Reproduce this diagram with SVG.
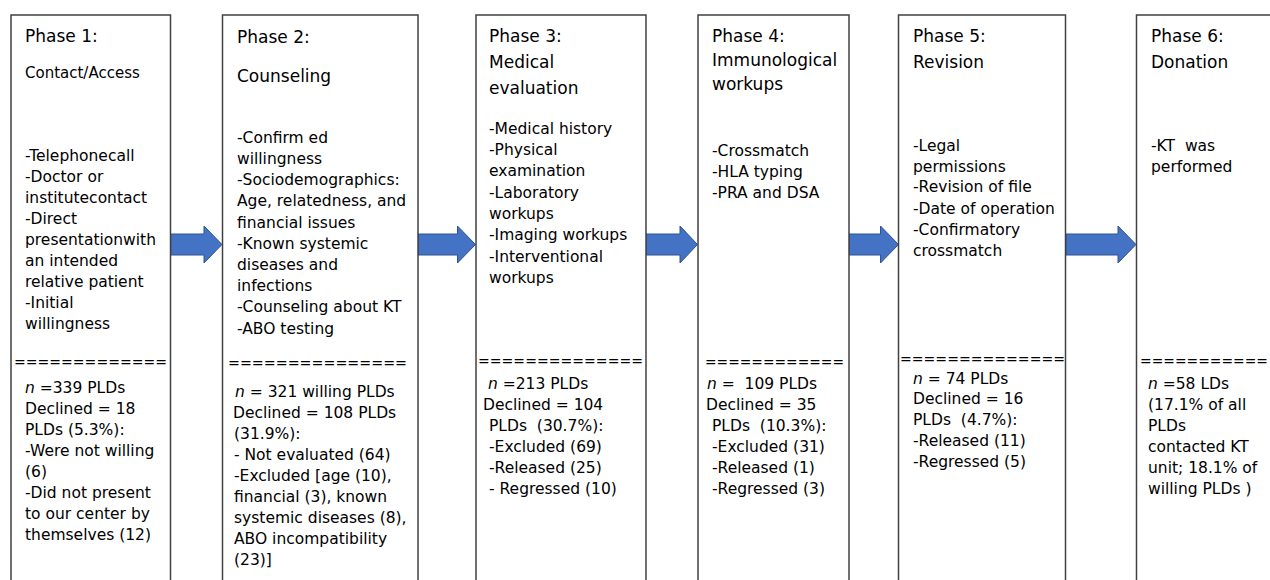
<svg xmlns="http://www.w3.org/2000/svg" width="1270" height="580" viewBox="0 0 1270 580">
<style>
.box{fill:#fff;stroke:#404040;stroke-width:1.5}
.arrow{fill:#4472C4;stroke:#2F528F;stroke-width:1}
text{font-family:"DejaVu Sans","Verdana",sans-serif;fill:#000}
.t{font-size:17px}
.b{font-size:15.5px}
.s{font-size:15px}
.eq{font-size:15.5px}
.i{font-style:italic}
</style>
<rect width="1270" height="580" fill="#fff"/>
<g id="connectors">
<path class="arrow" d="M170.7,234 H204 V226 L222,244.5 L204,263 V255 H170.7 Z"/>
<path class="arrow" d="M418,234 H457.5 V226 L475.5,244.5 L457.5,263 V255 H418 Z"/>
<path class="arrow" d="M646,234 H680 V226 L697.5,244.5 L680,263 V255 H646 Z"/>
<path class="arrow" d="M849,234 H880.5 V226 L898.5,244.5 L880.5,263 V255 H849 Z"/>
<path class="arrow" d="M1066,234 H1118 V226 L1136,244.5 L1118,263 V255 H1066 Z"/>
</g>
<g id="phase1">
<rect class="box" x="11" y="15" width="159.5" height="600"/>
<text class="t" x="25" y="42">Phase 1:</text>
<text class="s" x="25" y="78">Contact/Access</text>
<text class="b" x="25"><tspan x="25" y="161">-Telephonecall</tspan><tspan x="25" y="182">-Doctor or</tspan><tspan x="25" y="203">institutecontact</tspan><tspan x="25" y="224">-Direct</tspan><tspan x="25" y="245">presentationwith</tspan><tspan x="25" y="266">an intended</tspan><tspan x="25" y="287">relative patient</tspan><tspan x="25" y="308">-Initial</tspan><tspan x="25" y="329">willingness</tspan></text>
<text class="eq" x="14" y="367" textLength="153" lengthAdjust="spacingAndGlyphs">=============</text>
<text class="b"><tspan x="25" y="393"><tspan class="i">n</tspan> =339 PLDs</tspan><tspan x="25" y="414">Declined = 18</tspan><tspan x="25" y="435">PLDs (5.3%):</tspan><tspan x="25" y="456">-Were not willing</tspan><tspan x="25" y="477">(6)</tspan><tspan x="25" y="498">-Did not present</tspan><tspan x="25" y="519">to our center by</tspan><tspan x="25" y="540">themselves (12)</tspan></text>
</g>
<g id="phase2">
<rect class="box" x="222.5" y="15" width="195.5" height="600"/>
<text class="t" x="237" y="43">Phase 2:</text>
<text class="t" x="237" y="82">Counseling</text>
<text class="b"><tspan x="237" y="143">-Confirm ed</tspan><tspan x="237" y="164">willingness</tspan><tspan x="237" y="185">-Sociodemographics:</tspan><tspan x="237" y="206">Age, relatedness, and</tspan><tspan x="237" y="228">financial issues</tspan><tspan x="237" y="249">-Known systemic</tspan><tspan x="237" y="270">diseases and</tspan><tspan x="237" y="291">infections</tspan><tspan x="237" y="312">-Counseling about KT</tspan><tspan x="237" y="334">-ABO testing</tspan></text>
<text class="eq" x="228" y="368" textLength="179" lengthAdjust="spacingAndGlyphs">===============</text>
<text class="b"><tspan x="235" y="397"><tspan class="i">n</tspan> = 321 willing PLDs</tspan><tspan x="233" y="418">Declined = 108 PLDs</tspan><tspan x="234" y="439">(31.9%):</tspan><tspan x="234" y="460">- Not evaluated (64)</tspan><tspan x="234" y="481">-Excluded [age (10),</tspan><tspan x="234" y="502">financial (3), known</tspan><tspan x="234" y="523">systemic diseases (8),</tspan><tspan x="234" y="544">ABO incompatibility</tspan><tspan x="234" y="565">(23)]</tspan></text>
</g>
<g id="phase3">
<rect class="box" x="476" y="15" width="170" height="600"/>
<text class="t" x="489" y="42">Phase 3:</text>
<text class="t" x="489" y="68">Medical</text>
<text class="t" x="489" y="94">evaluation</text>
<text class="b"><tspan x="489" y="134">-Medical history</tspan><tspan x="489" y="155">-Physical</tspan><tspan x="489" y="176">examination</tspan><tspan x="489" y="198">-Laboratory</tspan><tspan x="489" y="219">workups</tspan><tspan x="489" y="240">-Imaging workups</tspan><tspan x="489" y="262">-Interventional</tspan><tspan x="489" y="283">workups</tspan></text>
<text class="eq" x="478" y="366" textLength="165" lengthAdjust="spacingAndGlyphs">==============</text>
<text class="b" xml:space="preserve"><tspan x="488" y="389"><tspan class="i">n</tspan> =213 PLDs</tspan><tspan x="483" y="410">Declined = 104</tspan><tspan x="489" y="431">PLDs  (30.7%):</tspan><tspan x="489" y="452">-Excluded (69)</tspan><tspan x="489" y="473">-Released (25)</tspan><tspan x="489" y="494">- Regressed (10)</tspan></text>
</g>
<g id="phase4">
<rect class="box" x="698" y="15" width="151" height="600"/>
<text class="t" x="712" y="42">Phase 4:</text>
<text class="t" x="712" y="66">Immunological</text>
<text class="t" x="712" y="90">workups</text>
<text class="b"><tspan x="712" y="156">-Crossmatch</tspan><tspan x="712" y="177">-HLA typing</tspan><tspan x="712" y="198">-PRA and DSA</tspan></text>
<text class="eq" x="705" y="367" textLength="139" lengthAdjust="spacingAndGlyphs">============</text>
<text class="b" xml:space="preserve"><tspan x="707" y="389"><tspan class="i">n</tspan> =  109 PLDs</tspan><tspan x="706" y="410">Declined = 35</tspan><tspan x="712" y="431">PLDs  (10.3%):</tspan><tspan x="712" y="452">-Excluded (31)</tspan><tspan x="712" y="473">-Released (1)</tspan><tspan x="712" y="494">-Regressed (3)</tspan></text>
</g>
<g id="phase5">
<rect class="box" x="898.5" y="15" width="167" height="600"/>
<text class="t" x="913" y="42">Phase 5:</text>
<text class="t" x="913" y="68">Revision</text>
<text class="b"><tspan x="913" y="151">-Legal</tspan><tspan x="913" y="172">permissions</tspan><tspan x="913" y="192">-Revision of file</tspan><tspan x="913" y="214">-Date of operation</tspan><tspan x="913" y="235">-Confirmatory</tspan><tspan x="913" y="256">crossmatch</tspan></text>
<text class="eq" x="900" y="364" textLength="165" lengthAdjust="spacingAndGlyphs">==============</text>
<text class="b" xml:space="preserve"><tspan x="913" y="384"><tspan class="i">n</tspan> = 74 PLDs</tspan><tspan x="913" y="404">Declined = 16</tspan><tspan x="913" y="425">PLDs  (4.7%):</tspan><tspan x="913" y="446">-Released (11)</tspan><tspan x="913" y="467">-Regressed (5)</tspan></text>
</g>
<g id="phase6">
<rect class="box" x="1136.5" y="15" width="160" height="600"/>
<text class="t" x="1151" y="42">Phase 6:</text>
<text class="t" x="1151" y="68">Donation</text>
<text class="b" xml:space="preserve"><tspan x="1151" y="151">-KT  was</tspan><tspan x="1151" y="172">performed</tspan></text>
<text class="eq" x="1140" y="366" textLength="128" lengthAdjust="spacingAndGlyphs">===========</text>
<text class="b"><tspan x="1148" y="389"><tspan class="i">n</tspan> =58 LDs</tspan><tspan x="1148" y="410">(17.1% of all</tspan><tspan x="1148" y="431">PLDs</tspan><tspan x="1148" y="452">contacted KT</tspan><tspan x="1148" y="473">unit; 18.1% of</tspan><tspan x="1148" y="494">willing PLDs )</tspan></text>
</g>
</svg>
